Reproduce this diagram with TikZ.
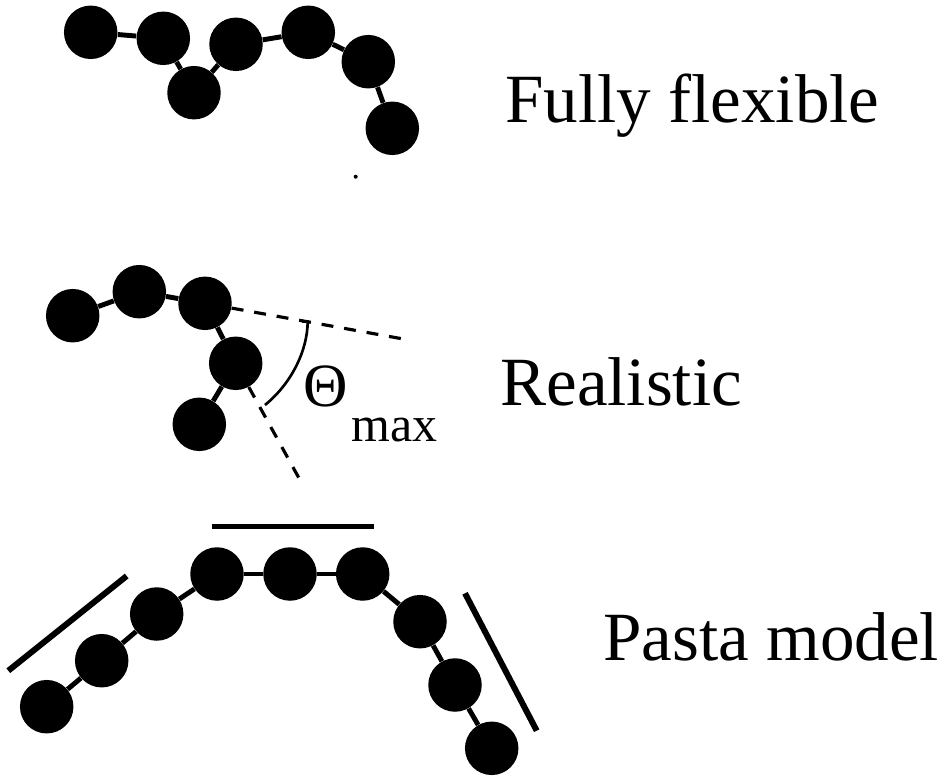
\documentclass[tikz,border=0pt]{standalone}
\usepackage{fontspec}
\setmainfont{Liberation Serif}
\usepackage{tikz}
\tikzset{
  % Solid black bead with its bonds and the stiff segments of the pasta chain.
  bead/.style  = {circle, fill=black, inner sep=0pt, minimum size=1.07cm},
  bond/.style  = {line width=2.8pt},
  bar/.style   = {line width=3.4pt},
  guide/.style = {line width=1.8pt, dash pattern=on 6.8pt off 6.2pt},
  lbl/.style   = {font=\fontsize{39.3}{47}\selectfont, inner sep=0pt},
  sym/.style   = {font=\fontsize{35}{42}\selectfont, inner sep=0pt},
  sub/.style   = {font=\fontsize{28.4}{34}\selectfont, inner sep=0pt},
}

\begin{document}
\begin{tikzpicture}[x=0.02cm,y=-0.02cm]
\useasboundingbox (0,0) rectangle (945,780);
% --- fully flexible chain -----------------------------------------------
\node[bead] (f1) at (90.7,32.3)  {};
\node[bead] (f2) at (163.3,38.3) {};
\node[bead] (f3) at (194,92.7)   {};
\node[bead] (f4) at (236,44.3)   {};
\node[bead] (f5) at (308.3,32.3) {};
\node[bead] (f6) at (368.3,61.7) {};
\node[bead] (f7) at (392.3,128.3) {};
\foreach \a/\b in {f1/f2,f2/f3,f3/f4,f4/f5,f5/f6,f6/f7}
  \draw[bond] (\a) -- (\b);
\fill (355.7,176.7) circle (2);
\node[lbl, anchor=base west] (flex) at (505,123) {Fully flexible};
% --- realistic chain with the maximal bending angle ----------------------
\node[bead] (r1) at (72.7,315.7)  {};
\node[bead] (r2) at (139.3,291.7) {};
\node[bead] (r3) at (205,303.3)   {};
\node[bead] (r4) at (235.7,363.3) {};
\node[bead] (r5) at (199.3,424.3) {};
\foreach \a/\b in {r1/r2,r2/r3,r3/r4,r4/r5}
  \draw[bond] (\a) -- (\b);
\coordinate (t1) at (405,339.3);
\coordinate (t2) at (300,480);
\draw[guide] (r3) -- (t1);
\draw[guide] (r4) -- (t2);
\draw[line width=1.5pt] (302,321.5) -- (307.7,321.5)
  .. controls (307.5,350) and (292,383) .. (265,405);
\node[sym, anchor=base west] (theta) at (303,406.5) {Θ};
\node[sub, anchor=base west] (thmax) at (351,441.7) {max};
\node[lbl, anchor=base west] (real) at (500,405) {Realistic};
% --- pasta model ----------------------------------------------------------
\node[bead] (p1) at (46.7,706.7)  {};
\node[bead] (p2) at (101.7,660.7) {};
\node[bead] (p3) at (156.7,614)   {};
\node[bead] (p4) at (217,574)     {};
\node[bead] (p5) at (290,574)     {};
\node[bead] (p6) at (362.7,574)   {};
\node[bead] (p7) at (420,621.7)   {};
\node[bead] (p8) at (455,685)     {};
\node[bead] (p9) at (491.7,748.3) {};
\foreach \a/\b in {p1/p2,p2/p3,p3/p4,p4/p5,p5/p6,p6/p7,p7/p8,p8/p9}
  \draw[bond] (\a) -- (\b);
\draw[bar] (8.3,670.7) -- (126.7,576);
\draw[bar] (211.7,526.5) -- (374.3,526.5);
\draw[bar] (465,593.3) -- (536.7,730.7);
\node[lbl, anchor=base west] (pasta) at (603,660) {Pasta model};
\end{tikzpicture}
\end{document}
